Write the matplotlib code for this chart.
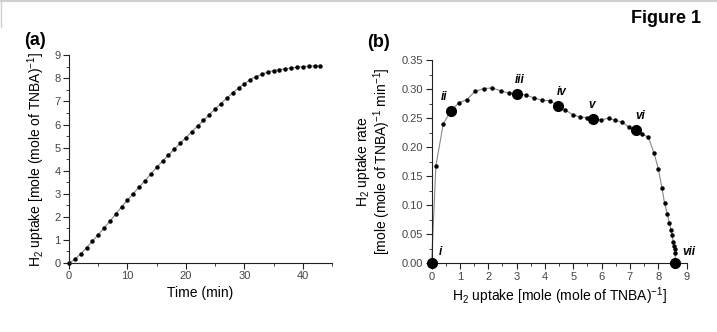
"""Two-panel H2 uptake figure: cumulative uptake vs time and uptake rate vs uptake."""

import matplotlib
matplotlib.use("Agg")
import matplotlib.pyplot as plt
from matplotlib.lines import Line2D
from matplotlib.ticker import MultipleLocator

plt.rcParams["font.family"] = ["Liberation Sans", "DejaVu Sans"]
plt.rcParams["mathtext.fontset"] = "custom"
plt.rcParams["mathtext.rm"] = "Liberation Sans"
plt.rcParams["mathtext.it"] = "Liberation Sans:italic"

# panel (a): uptake vs time, one point per minute
time_min = list(range(0, 44))
uptake = [
    0.00, 0.16, 0.40, 0.66, 0.94, 1.23, 1.52, 1.81, 2.12, 2.43,
    2.72, 3.01, 3.29, 3.57, 3.86, 4.15, 4.41, 4.68, 4.93, 5.19,
    5.43, 5.69, 5.94, 6.18, 6.43, 6.68, 6.91, 7.15, 7.37, 7.59,
    7.77, 7.95, 8.08, 8.18, 8.27, 8.34, 8.38, 8.42, 8.45, 8.48,
    8.51, 8.53, 8.54, 8.54,
]

# panel (b): uptake rate vs uptake
rate_x = [
    0.00, 0.15, 0.41, 0.67, 0.95, 1.24, 1.53, 1.84, 2.14, 2.44,
    2.73, 3.02, 3.32, 3.60, 3.89, 4.18, 4.45, 4.72, 4.98, 5.24,
    5.47, 5.71, 5.98, 6.25, 6.49, 6.73, 6.98, 7.20, 7.42, 7.65,
    7.85, 8.00, 8.13, 8.22, 8.32, 8.39, 8.45, 8.49, 8.53, 8.55,
    8.58, 8.60, 8.60,
]
rate_y = [
    0.000, 0.168, 0.240, 0.262, 0.276, 0.282, 0.296, 0.301, 0.302, 0.297,
    0.293, 0.292, 0.290, 0.285, 0.281, 0.280, 0.271, 0.264, 0.256, 0.252,
    0.251, 0.249, 0.247, 0.250, 0.246, 0.243, 0.234, 0.229, 0.223, 0.217,
    0.190, 0.163, 0.130, 0.104, 0.085, 0.070, 0.057, 0.048, 0.037, 0.030,
    0.024, 0.018, 0.000,
]

# highlighted stages
stage_labels = ["i", "ii", "iii", "iv", "v", "vi", "vii"]
stage_x = [0.00, 0.67, 3.02, 4.45, 5.71, 7.20, 8.60]
stage_y = [0.000, 0.262, 0.292, 0.271, 0.249, 0.229, 0.000]
stage_offsets = [(6, 8), (-5, 10), (2, 10), (3, 10), (-1, 10), (3, 10), (10, 8)]

tick_color = "#444444"


def style_axis(ax):
    for side in ["top", "right"]:
        ax.spines[side].set_visible(False)
    for side in ["left", "bottom"]:
        ax.spines[side].set_color("#222222")
        ax.spines[side].set_linewidth(0.8)
    ax.tick_params(which="major", direction="out", length=4, width=0.8,
                   labelsize=8, colors="#222222", labelcolor=tick_color, pad=2)
    ax.tick_params(which="minor", direction="out", length=2, width=0.6,
                   colors="#222222")


fig = plt.figure(figsize=(7.17, 3.32), dpi=100)

# (a)
ax1 = fig.add_axes([0.0962, 0.2078, 0.367, 0.6256])
ax1.plot(time_min, uptake, color="#888888", lw=0.8, marker="o",
         ms=2.2, mfc="black", mec="black", clip_on=False)
ax1.set_xlim(0, 45)
ax1.set_ylim(0, 9)
ax1.xaxis.set_major_locator(MultipleLocator(10))
ax1.xaxis.set_minor_locator(MultipleLocator(5))
ax1.yaxis.set_major_locator(MultipleLocator(1))
ax1.yaxis.set_minor_locator(MultipleLocator(0.5))
style_axis(ax1)
ax1.set_xlabel("Time (min)", fontsize=10, labelpad=3)
ax1.set_ylabel(r"H$_2$ uptake [mole (mole of TNBA)$^{-1}$]", fontsize=10,
               labelpad=5)

# (b)
ax2 = fig.add_axes([0.602, 0.207, 0.3556, 0.612])
ax2.plot(rate_x, rate_y, color="#888888", lw=0.8, marker="o",
         ms=2.2, mfc="black", mec="black", clip_on=False, zorder=2)
ax2.plot(stage_x, stage_y, ls="none", marker="o", ms=7, color="black",
         clip_on=False, zorder=3)
for lab, x, y, off in zip(stage_labels, stage_x, stage_y, stage_offsets):
    ax2.annotate(lab, (x, y), xytext=off, textcoords="offset points",
                 ha="center", va="center", fontsize=8.5,
                 fontstyle="italic", fontweight="bold", annotation_clip=False)
ax2.set_xlim(0, 9)
ax2.set_ylim(0, 0.35)
ax2.xaxis.set_major_locator(MultipleLocator(1))
ax2.xaxis.set_minor_locator(MultipleLocator(0.5))
ax2.yaxis.set_major_locator(MultipleLocator(0.05))
ax2.yaxis.set_minor_locator(MultipleLocator(0.025))
ax2.yaxis.set_major_formatter(plt.FormatStrFormatter("%.2f"))
style_axis(ax2)
ax2.set_xlabel(r"H$_2$ uptake [mole (mole of TNBA)$^{-1}$]", fontsize=10,
               labelpad=3)
ax2.set_ylabel("H$_2$ uptake rate\n[mole (mole of TNBA)$^{-1}$ min$^{-1}$]",
               fontsize=10, labelpad=6, linespacing=1.0)

fig.text(0.033, 0.877, "(a)", fontsize=13, fontweight="bold",
         ha="left", va="center")
fig.text(0.512, 0.872, "(b)", fontsize=13, fontweight="bold",
         ha="left", va="center")
fig.text(0.977, 0.943, "Figure 1", fontsize=13, fontweight="bold",
         ha="right", va="center")

# faint frame remnants along the top and left edges
fig.add_artist(Line2D([0, 1], [0.996, 0.996], transform=fig.transFigure,
                      color="#d0d0d0", lw=1.5))
fig.add_artist(Line2D([0.002, 0.002], [0.92, 1.0], transform=fig.transFigure,
                      color="#d0d0d0", lw=1.0))

fig.savefig("out.png", dpi=100)
